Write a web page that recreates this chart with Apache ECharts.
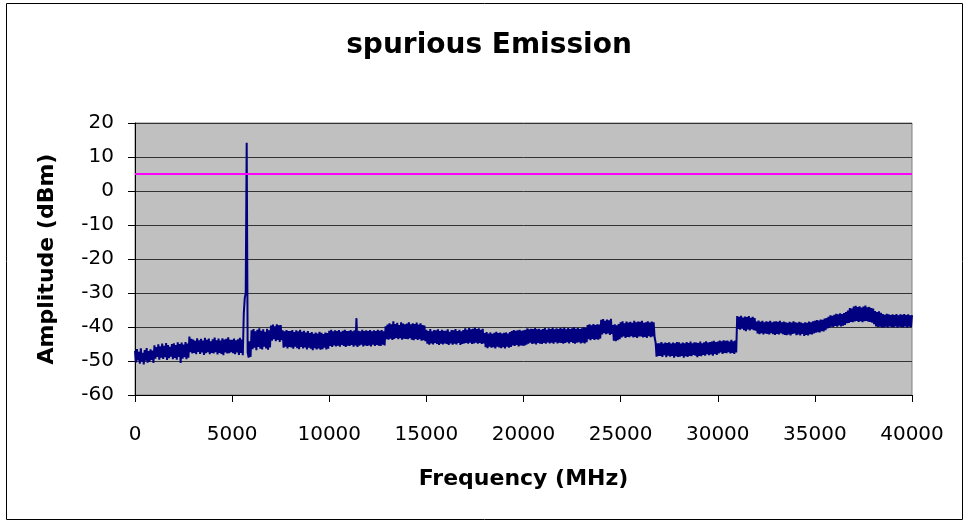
<!DOCTYPE html>
<html>
<head>
<meta charset="utf-8">
<script src="https://cdn.jsdelivr.net/npm/echarts@6/dist/echarts.min.js"></script>
<style>
html,body{margin:0;padding:0;background:#fff;}
#chart{width:968px;height:522px;}
</style>
</head>
<body>
<div id="chart"></div>
<script>
// Sweep grid (MHz)
const sweepStartMHz = 0;
const sweepStepMHz = 50;

const ampBand1 = [ // 0 - 9950 MHz
  -47.0,-50.4,-46.5,-49.8,-47.3,-50.8,-46.3,-50.1,-47.6,-51.0,-46.8,-49.9,-46.2,-50.5,-47.1,-50.2,-46.6,-49.7,-46.9,-50.6,
  -45.4,-49.3,-45.9,-48.8,-45.1,-49.6,-45.7,-49.0,-44.9,-49.4,-45.5,-48.9,-44.7,-49.7,-45.3,-49.2,-45.8,-48.7,-45.0,-49.5,
  -44.8,-49.1,-45.3,-49.6,-44.5,-48.8,-45.0,-50.6,-44.6,-49.3,-45.2,-48.9,-44.4,-49.5,-44.9,-49.0,-42.8,-47.4,-43.5,-47.8,
  -43.7,-47.6,-44.1,-48.0,-43.3,-47.3,-43.9,-47.9,-43.5,-47.5,-44.0,-48.2,-43.2,-47.7,-43.8,-47.4,-43.4,-48.0,-44.2,-47.6,
  -43.6,-47.8,-43.1,-47.4,-43.9,-48.1,-43.4,-47.6,-44.0,-47.9,-43.3,-48.3,-43.7,-47.5,-43.5,-47.8,-43.0,-47.7,-43.8,-47.4,
  -43.8,-47.7,-43.4,-48.0,-43.9,-47.5,-43.6,-48.2,-43.2,-47.6,-43.7,-48.3,-36.0,-31.5,-30.0,14.2,-47.5,-49.0,-44.2,-48.8,
  -41.0,-46.5,-40.6,-46.1,-41.3,-46.8,-40.8,-45.9,-40.4,-46.4,-41.1,-46.6,-40.7,-45.8,-41.4,-46.3,-40.5,-46.7,-41.0,-46.0,
  -39.6,-44.0,-39.3,-43.6,-39.8,-44.2,-39.2,-43.8,-39.5,-44.4,-39.4,-43.9,-41.0,-46.1,-41.3,-45.8,-40.9,-46.3,-41.2,-45.9,
  -41.2,-46.0,-40.9,-46.4,-41.5,-45.8,-41.0,-46.2,-41.3,-46.5,-40.8,-45.9,-41.4,-46.3,-41.1,-46.0,-41.6,-46.6,-41.2,-46.1,
  -41.8,-46.4,-41.5,-46.8,-42.0,-46.2,-41.6,-46.6,-41.9,-46.3,-41.4,-46.7,-41.7,-46.5,-42.1,-46.1,-41.6,-46.6,-41.8,-46.4
];
const ampBand2 = [ // 10000 - 19950 MHz
  -41.1,-45.6,-40.8,-45.9,-41.3,-45.4,-41.0,-45.7,-41.2,-45.5,-40.9,-45.8,-41.4,-45.3,-41.1,-45.6,-40.8,-45.9,-41.2,-45.5,
  -41.2,-45.6,-40.9,-45.3,-41.3,-45.8,-41.0,-45.4,-37.4,-45.9,-41.1,-45.5,-41.3,-45.2,-40.8,-45.7,-41.2,-45.4,-41.0,-45.6,
  -41.2,-45.4,-40.9,-45.7,-41.3,-45.2,-41.0,-45.6,-41.2,-45.3,-40.8,-45.5,-41.1,-45.6,-40.9,-45.2,-41.3,-45.4,-39.8,-43.6,
  -39.3,-43.7,-38.9,-43.4,-39.2,-43.8,-38.3,-43.5,-39.1,-43.2,-38.8,-43.6,-39.4,-43.3,-38.6,-43.7,-39.0,-43.4,-39.2,-43.5,
  -39.0,-43.6,-38.6,-43.3,-39.2,-43.7,-38.9,-43.9,-39.1,-43.5,-38.7,-43.8,-39.3,-43.6,-38.9,-44.0,-39.4,-43.9,-39.6,-44.2,
  -40.8,-44.9,-41.2,-45.2,-40.6,-44.8,-41.3,-45.1,-40.9,-44.7,-41.0,-45.0,-40.7,-45.3,-41.2,-44.9,-40.8,-45.1,-41.1,-44.8,
  -41.1,-45.0,-40.7,-45.3,-41.4,-44.8,-40.9,-45.2,-41.0,-44.9,-40.6,-45.1,-41.2,-44.7,-40.8,-45.3,-41.3,-45.0,-40.9,-44.8,
  -40.4,-44.7,-40.8,-44.9,-40.3,-44.6,-40.7,-45.0,-40.5,-44.8,-40.2,-44.6,-40.6,-44.9,-40.4,-44.7,-40.8,-45.0,-40.5,-44.8,
  -41.8,-45.9,-41.5,-46.2,-41.9,-45.8,-41.6,-46.1,-42.0,-45.9,-41.7,-46.3,-41.4,-45.8,-41.8,-46.0,-41.6,-46.2,-41.9,-45.9,
  -41.7,-46.3,-41.6,-45.8,-41.9,-46.1,-41.5,-45.9,-41.2,-45.4,-40.9,-45.6,-41.1,-45.3,-41.0,-45.7,-40.8,-45.4,-41.1,-45.5
];
const ampBand3 = [ // 20000 - 29950 MHz
  -41.0,-45.5,-40.8,-45.2,-40.4,-44.9,-40.7,-44.6,-40.5,-45.0,-40.6,-44.8,-40.3,-45.1,-40.7,-44.7,-40.5,-44.9,-40.8,-45.0,
  -40.6,-44.7,-40.3,-44.9,-40.8,-44.5,-40.4,-44.8,-40.6,-44.6,-40.2,-44.9,-40.7,-44.5,-40.4,-44.8,-40.6,-44.6,-40.3,-44.7,
  -40.5,-44.9,-40.2,-44.7,-40.7,-44.5,-40.3,-44.8,-40.6,-44.4,-40.4,-44.7,-40.1,-44.9,-40.5,-44.6,-40.3,-44.5,-40.6,-44.8,
  -40.4,-44.6,-40.1,-44.8,-40.3,-44.5,-39.4,-43.6,-39.2,-43.9,-39.5,-43.5,-39.1,-43.8,-39.4,-43.6,-39.2,-43.7,-39.3,-43.4,
  -37.9,-42.2,-37.7,-41.8,-38.2,-42.1,-37.8,-41.9,-38.0,-42.3,-37.6,-42.0,-39.4,-44.0,-39.2,-44.2,-39.5,-43.9,-39.1,-43.6,
  -38.6,-43.1,-38.3,-42.8,-38.9,-43.2,-38.4,-42.9,-38.7,-43.0,-38.5,-42.7,-38.8,-43.1,-38.2,-42.9,-38.6,-43.2,-38.4,-42.8,
  -38.5,-42.8,-38.2,-43.1,-38.8,-42.9,-38.6,-43.2,-38.3,-42.7,-38.7,-43.0,-38.4,-42.8,-38.6,-43.1,-44.5,-48.7,-44.8,-48.5,
  -44.8,-48.5,-44.4,-48.8,-44.9,-48.3,-44.6,-48.9,-44.7,-48.4,-44.5,-48.7,-44.9,-48.5,-44.6,-49.0,-44.8,-48.6,-44.4,-48.8,
  -44.5,-48.7,-44.9,-48.5,-44.6,-49.0,-44.8,-48.6,-44.4,-48.8,-44.7,-48.5,-44.3,-48.6,-44.8,-48.2,-44.5,-48.4,-44.6,-48.9,
  -44.7,-48.5,-44.3,-48.6,-44.8,-48.2,-44.5,-48.4,-44.2,-48.0,-44.6,-48.3,-44.4,-48.1,-44.3,-48.4,-44.1,-47.9,-44.4,-48.2
];
const ampBand4 = [ // 30000 - 40000 MHz
  -44.3,-47.8,-44.0,-47.5,-44.2,-47.9,-43.9,-47.6,-44.1,-47.7,-44.0,-47.4,-44.3,-47.8,-43.8,-47.6,-44.2,-47.9,-44.0,-47.5,
  -36.8,-40.6,-37.0,-40.8,-36.7,-40.5,-37.2,-40.9,-36.9,-41.2,-37.1,-40.7,-36.8,-41.0,-37.3,-40.6,-37.0,-40.9,-37.4,-41.1,
  -38.4,-41.9,-38.1,-42.1,-38.5,-41.8,-38.2,-42.2,-38.6,-41.9,-38.3,-42.0,-38.5,-42.2,-38.2,-41.8,-38.6,-42.1,-38.4,-42.3,
  -38.3,-42.0,-38.5,-42.2,-38.2,-41.8,-38.6,-42.1,-38.4,-42.3,-38.6,-42.4,-38.8,-42.2,-38.5,-42.5,-38.7,-42.0,-38.3,-41.9,
  -38.6,-42.4,-38.8,-42.2,-38.5,-42.5,-38.7,-42.0,-38.9,-42.6,-38.6,-42.3,-38.8,-42.5,-38.4,-42.1,-38.6,-42.2,-38.3,-41.9,
  -38.2,-41.7,-38.0,-41.5,-38.1,-41.6,-37.8,-41.2,-37.9,-41.3,-37.5,-40.9,-37.4,-40.4,-37.0,-40.2,-36.6,-39.9,-36.7,-40.0,
  -36.4,-39.7,-36.1,-39.9,-36.3,-39.5,-36.0,-39.8,-36.2,-39.6,-35.9,-39.4,-35.6,-38.9,-35.2,-38.8,-34.4,-38.5,-34.6,-38.6,
  -34.0,-38.4,-33.8,-38.2,-34.1,-38.5,-33.9,-38.3,-34.3,-38.6,-34.0,-38.3,-33.7,-38.2,-34.2,-38.4,-34.1,-38.5,-34.4,-38.7,
  -34.6,-39.2,-35.3,-39.8,-35.6,-40.0,-35.4,-39.9,-35.8,-40.1,-36.2,-40.1,-36.4,-39.9,-36.1,-40.2,-36.3,-39.8,-36.5,-40.0,
  -36.3,-40.1,-36.5,-39.8,-36.2,-40.2,-36.6,-39.9,-36.3,-40.0,-36.4,-40.1,-36.2,-39.8,-36.5,-40.2,-36.3,-39.9,-36.6,-40.0,
  -36.5
];

// Limit line
const limitFreq = [0, 40000];
const limitLevel = [5, 5];

// Axes
const xMin = 0, xMax = 40000, xStep = 5000;
const yMin = -60, yMax = 20, yStep = 10;

const amplitude = ampBand1.concat(ampBand2, ampBand3, ampBand4);
const traceData = amplitude.map((a, i) => [sweepStartMHz + i * sweepStepMHz, a]);
const limitData = limitFreq.map((f, i) => [f, limitLevel[i]]);

const FONT = 'DejaVu Sans';
const chart = echarts.init(document.getElementById('chart'), null, {renderer: 'canvas'});
chart.setOption({
  animation: false,
  backgroundColor: '#ffffff',
  title: {
    text: 'spurious Emission',
    left: 484,
    textAlign: 'center',
    top: 27,
    textStyle: {fontFamily: FONT, fontSize: 28, fontWeight: 'bold', color: '#000'}
  },
  graphic: [{
    type: 'rect',
    shape: {x: 6.5, y: 3.5, width: 956, height: 516},
    style: {fill: 'none', stroke: '#000', lineWidth: 1},
    silent: true,
    z: 100
  }],
  grid: {
    left: 135, right: 56, top: 123, bottom: 127,
    show: true,
    backgroundColor: '#C0C0C0',
    borderColor: '#808080',
    borderWidth: 1
  },
  xAxis: {
    type: 'value',
    min: xMin, max: xMax, interval: xStep,
    name: 'Frequency (MHz)',
    nameLocation: 'middle',
    nameGap: 73,
    nameTextStyle: {fontFamily: FONT, fontSize: 22, fontWeight: 'bold', color: '#000'},
    axisLine: {show: true, onZero: false, lineStyle: {color: '#000', width: 1}},
    axisTick: {show: true, inside: false, length: 7, lineStyle: {color: '#000'}},
    axisLabel: {fontFamily: FONT, fontSize: 20, color: '#000', margin: 30,
      formatter: v => String(v)},
    splitLine: {show: false}
  },
  yAxis: {
    type: 'value',
    min: yMin, max: yMax, interval: yStep,
    name: 'Amplitude (dBm)',
    nameLocation: 'middle',
    nameGap: 77,
    nameRotate: 90,
    nameTextStyle: {fontFamily: FONT, fontSize: 22, fontWeight: 'bold', color: '#000'},
    axisLine: {show: true, lineStyle: {color: '#000', width: 1}},
    axisTick: {show: true, inside: false, length: 7, lineStyle: {color: '#000'}},
    axisLabel: {fontFamily: FONT, fontSize: 20, color: '#000', margin: 21,
      formatter: v => String(v)},
    splitLine: {show: true, lineStyle: {color: '#333', width: 1}}
  },
  series: [
    {
      name: 'Trace',
      type: 'line',
      data: traceData,
      showSymbol: false,
      symbol: 'none',
      lineStyle: {color: '#000080', width: 2, join: 'bevel'},
      z: 3
    },
    {
      name: 'Limit',
      type: 'line',
      data: limitData,
      showSymbol: false,
      symbol: 'none',
      lineStyle: {color: '#FF00FF', width: 2},
      z: 4
    }
  ]
});
</script>
</body>
</html>
